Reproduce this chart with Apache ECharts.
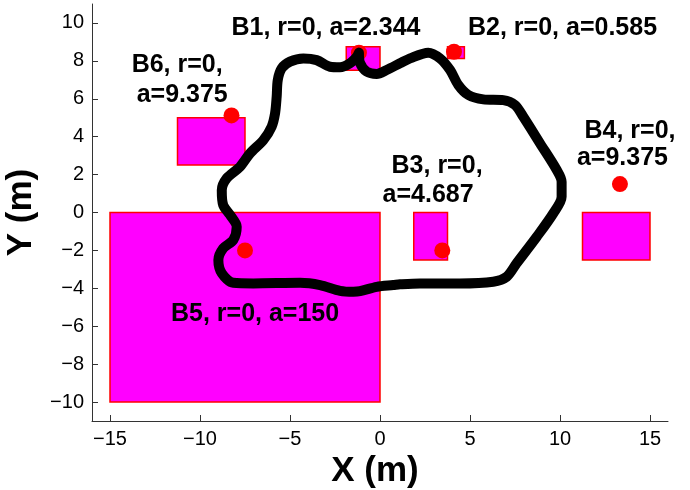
<!DOCTYPE html>
<html><head><meta charset="utf-8">
<script src="https://cdn.jsdelivr.net/npm/echarts@6/dist/echarts.min.js"></script>
<style>html,body{margin:0;padding:0;background:#fff}#c{width:690px;height:490px}</style>
</head><body><div id="c"></div>
<script>
// tick values
const xTicks = [-15, -10, -5, 0, 5, 10, 15];
const yTicks = [-10, -8, -6, -4, -2, 0, 2, 4, 6, 8, 10];
// beacon boxes
const boxNames = ['B1', 'B2', 'B3', 'B4', 'B5', 'B6'];
const boxX0 = [-1.875, 3.75, 1.875, 11.25, -15, -11.25];
const boxX1 = [0, 4.6875, 3.75, 15, 0, -7.5];
const boxY0 = [7.5, 8.125, -2.5, -2.5, -10, 2.5];
const boxY1 = [8.75, 8.75, 0, 0, 0, 5];
// beacon points
const beaconX = [-1.17, 4.11, 3.46, 13.33, -7.5, -8.25];
const beaconY = [8.43, 8.48, -2, 1.5, -2, 5.12];
// trajectory
const pathX = [-1.17,-1.11,-0.74,-0.18,0.37,1.11,1.67,2.68,3.33,3.89,4.35,4.91,5.74,6.85,7.5,7.96,8.89,9.82,10.09,10.09,9.63,8.71,7.59,7.04,6.29,4.44,2.22,1.11,0.74,-0.18,-1.11,-1.48,-2.22,-3.33,-4.44,-7.04,-8.15,-8.79,-8.98,-8.71,-8.15,-7.96,-8.33,-8.71,-8.79,-8.52,-7.78,-7.22,-6.48,-6.02,-5.83,-5.74,-5.68,-5.46,-5.0,-4.26,-3.52,-2.78,-2.22,-1.67,-1.29,-1.17];
const pathY = [8.43,7.89,7.43,7.31,7.52,7.87,8.13,8.43,8.13,7.52,6.73,6.20,5.97,5.93,5.67,5.05,3.65,2.24,1.62,0.83,-0.04,-1.28,-2.68,-3.39,-3.65,-3.74,-3.74,-3.79,-3.83,-3.92,-4.15,-4.18,-4.13,-3.83,-3.71,-3.74,-3.71,-3.21,-2.51,-1.89,-1.45,-0.75,-0.13,0.39,1.18,1.80,2.41,3.12,3.82,4.53,5.23,6.11,6.99,7.61,7.96,8.13,8.04,7.69,7.66,7.87,8.22,8.43];
// annotations
const labelText = ['B1, r=0, a=2.344', 'B2, r=0, a=0.585', 'B3, r=0,', 'a=4.687', 'B4, r=0,', 'a=9.375', 'B5, r=0, a=150', 'B6, r=0,', 'a=9.375'];
const labelX = [-3.0, 10.14, 3.17, 2.67, 13.89, 13.47, -6.94, -11.27, -10.99];
const labelY = [9.72, 9.72, 2.44, 0.92, 4.31, 2.87, -5.34, 7.77, 6.20];

const FONT = "'Liberation Sans', Arial, Helvetica, sans-serif";
const minus = v => String(v).replace('-', '\u2212');

const chart = echarts.init(document.getElementById('c'), null, {renderer: 'canvas'});
const axisCommon = {
  type: 'value',
  axisLine: {show: true, onZero: false, lineStyle: {color: '#333', width: 1}},
  splitLine: {show: false},
  nameLocation: 'middle'
};
chart.setOption({
  animation: false,
  backgroundColor: '#fff',
  grid: {left: 92, right: 22, top: 4, bottom: 69, containLabel: false, outerBoundsMode: 'none'},
  xAxis: Object.assign({}, axisCommon, {
    min: -16, max: 16, name: 'X (m)', nameGap: 25,
    nameTextStyle: {fontSize: 35, fontWeight: 'bold', color: '#000', fontFamily: FONT, padding: [0, 10, 0, 0]},
    axisTick: {show: true, inside: true, length: 6, customValues: xTicks, lineStyle: {color: '#333'}},
    axisLabel: {customValues: xTicks, formatter: minus, fontSize: 20, color: '#000', margin: 8, fontFamily: FONT}
  }),
  yAxis: Object.assign({}, axisCommon, {
    min: -11, max: 11, name: 'Y (m)', nameGap: 38,
    nameTextStyle: {fontSize: 35, fontWeight: 'bold', color: '#000', fontFamily: FONT},
    axisTick: {show: true, inside: true, length: 6, customValues: yTicks, lineStyle: {color: '#333'}},
    axisLabel: {customValues: yTicks, formatter: minus, fontSize: 20, color: '#000', margin: 8, fontFamily: FONT}
  }),
  series: [
    {
      type: 'custom', z: 1, silent: true,
      data: boxNames.map((n, i) => ({name: n, value: [boxX0[i], boxX1[i], boxY0[i], boxY1[i]]})),
      encode: {x: [0, 1], y: [2, 3]},
      renderItem: function (params, api) {
        const p0 = api.coord([api.value(0), api.value(3)]);
        const p1 = api.coord([api.value(1), api.value(2)]);
        return {type: 'rect', shape: {x: p0[0], y: p0[1], width: p1[0] - p0[0], height: p1[1] - p0[1]},
          style: {fill: '#ff00ff', stroke: '#ff0000', lineWidth: 1.5}};
      }
    },
    {
      type: 'scatter', z: 2, silent: true, symbol: 'circle', symbolSize: 16,
      itemStyle: {color: '#ff0000', opacity: 1},
      data: beaconX.map((x, i) => [x, beaconY[i]])
    },
    {
      type: 'line', z: 3, silent: true, showSymbol: false, smooth: 0.3,
      lineStyle: {color: '#000', width: 10, cap: 'round', join: 'round'},
      data: pathX.map((x, i) => [x, pathY[i]])
    },
    {
      type: 'custom', z: 4, silent: true,
      data: labelText.map((t, i) => ({name: t, value: [labelX[i], labelY[i]]})),
      encode: {x: 0, y: 1},
      renderItem: function (params, api) {
        const p = api.coord([api.value(0), api.value(1)]);
        return {type: 'text', x: p[0], y: p[1],
          style: {text: labelText[params.dataIndex], align: 'center', verticalAlign: 'middle',
            fill: '#000', font: "bold 25px " + FONT}};
      }
    }
  ]
});
</script>
</body></html>
